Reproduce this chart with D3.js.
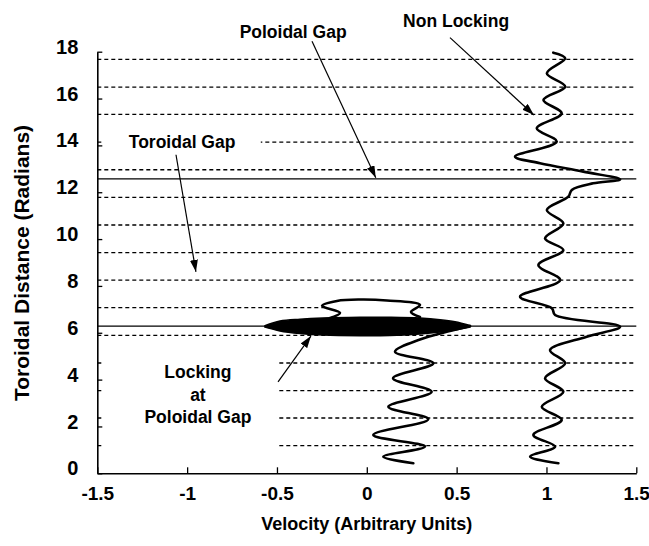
<!DOCTYPE html>
<html><head><meta charset="utf-8">
<script src="https://cdn.jsdelivr.net/npm/d3@7"></script>
<style>
html,body{margin:0;padding:0;background:#fff;}
svg{display:block;}
text{font-family:"Liberation Sans",Arial,Helvetica,sans-serif;font-weight:bold;fill:#000;}
</style></head><body>
<svg id="chart" width="649" height="546"></svg>
<script>
// ---------- data ----------
const xTicks = [-1.5, -1, -0.5, 0, 0.5, 1, 1.5];
const yTicks = [0, 2, 4, 6, 8, 10, 12, 14, 16, 18];
const dashedLevels = [1.18, 2.36, 3.53, 4.71, 5.89, 7.07, 8.25, 9.42, 10.60, 11.78, 12.96, 14.14, 15.32, 16.49, 17.67];
const gapLevels = [6.28, 12.57];

// Non locking trajectory
const nonLockV = [1.066, 0.909, 1.048, 0.927, 1.085, 0.974, 1.094, 0.992, 1.104, 1.020, 1.224, 1.41, 1.048, 1.03, 0.853, 1.076, 0.955, 1.094, 0.992, 1.094, 1.002, 1.122, 1.141, 1.26, 1.41, 1.205, 0.964, 0.825, 1.057, 0.946, 1.085, 0.983, 1.104, 1.002, 1.104, 1.038];
const nonLockT = [0.43, 0.71, 1.14, 1.64, 2.28, 2.84, 3.48, 4.06, 4.70, 5.26, 5.83, 6.26, 6.76, 7.05, 7.54, 8.25, 8.89, 9.53, 10.03, 10.67, 11.24, 11.81, 12.10, 12.38, 12.55, 12.88, 13.24, 13.52, 14.16, 14.73, 15.37, 15.94, 16.51, 17.08, 17.72, 17.96];

// Locking trajectory: part below the gap
const lockLowV = [0.259, 0.092, 0.324, 0.036, 0.342, 0.120, 0.361, 0.146, 0.370, 0.157, 0.30, 0.45, 0.575];
const lockLowT = [0.43, 0.71, 1.14, 1.64, 2.31, 2.84, 3.48, 4.06, 4.70, 5.19, 5.72, 6.05, 6.29];
// Locking trajectory: loop above the gap
const lockLoopV = [-0.205, -0.149, -0.249, -0.166, -0.038, 0.112, 0.296, 0.246, 0.296];
const lockLoopT = [6.63, 6.85, 7.15, 7.36, 7.42, 7.38, 7.19, 6.89, 6.67];
// Locking trajectory: dense oscillation band at the poloidal gap
const lockBandV = [-0.567, -0.483, -0.372, -0.244, -0.038, 0.129, 0.296, 0.408, 0.491, 0.575];
const lockBandTop = [6.30, 6.50, 6.58, 6.63, 6.66, 6.66, 6.63, 6.56, 6.47, 6.31];
const lockBandBottom = [6.24, 6.08, 5.97, 5.90, 5.87, 5.88, 5.95, 6.03, 6.12, 6.25];

const xTitle = "Velocity (Arbitrary Units)";
const yTitle = "Toroidal Distance (Radians)";

// ---------- chart ----------
const svg = d3.select("#chart");
const x = d3.scaleLinear().domain([-1.5, 1.5]).range([97.3, 636.3]);
const y = d3.scaleLinear().domain([0, 18]).range([473.3, 51.7]);

const defs = svg.append("defs");
defs.append("marker").attr("id", "arrow")
  .attr("viewBox", "0 0 12 8").attr("refX", 12).attr("refY", 4)
  .attr("markerWidth", 12).attr("markerHeight", 8)
  .attr("markerUnits", "userSpaceOnUse").attr("orient", "auto")
  .append("path").attr("d", "M0,0 L12,4 L0,8 Z").attr("fill", "#000");

// dashed reference lines
svg.append("g").selectAll("line").data(dashedLevels).join("line")
  .attr("x1", x(-1.5)).attr("x2", x(1.5))
  .attr("y1", d => y(d)).attr("y2", d => y(d))
  .attr("stroke", "#000").attr("stroke-width", 1.3).attr("stroke-dasharray", "4,3");

// gap lines
svg.append("g").selectAll("line").data(gapLevels).join("line")
  .attr("x1", x(-1.5)).attr("x2", x(1.5))
  .attr("y1", d => y(d)).attr("y2", d => y(d))
  .attr("stroke", "#000").attr("stroke-width", 1.3);

// text boxes (white background behind labels inside plot)
const labelBoxes = [
  {v0: -1.47, v1: -0.59, t0: 13.55, t1: 14.6},
  {v0: -1.47, v1: -0.50, t0: 1.0, t1: 4.9}
];
svg.append("g").selectAll("rect").data(labelBoxes).join("rect")
  .attr("x", d => x(d.v0)).attr("width", d => x(d.v1) - x(d.v0))
  .attr("y", d => y(d.t1)).attr("height", d => y(d.t0) - y(d.t1))
  .attr("fill", "#fff");

// axes
const xAxis = d3.axisBottom(x).tickValues(xTicks).tickSizeInner(-6).tickSizeOuter(0)
  .tickPadding(13).tickFormat(d => String(d));
const gx = svg.append("g").attr("transform", `translate(0,${y(0)})`).call(xAxis);
const yAxis = d3.axisLeft(y).tickValues(yTicks).tickSizeInner(-5).tickSizeOuter(0)
  .tickPadding(19).tickFormat(d => String(d));
const gy = svg.append("g").attr("transform", `translate(${x(-1.5)},0)`).call(yAxis);
[gx, gy].forEach(g => {
  g.select(".domain").attr("stroke", "#000").attr("stroke-width", 1.6);
  g.selectAll(".tick line").attr("stroke", "#000").attr("stroke-width", 1.3);
  g.selectAll(".tick text").attr("font-family", null).attr("fill", "#000");
});
gy.selectAll(".tick text").attr("font-size", 20).attr("dy", "0.08em");
gx.selectAll(".tick text").attr("font-size", 19);
gx.selectAll(".tick text").filter(d => d === 1.5).attr("text-anchor", "end").attr("dx", "13px");

// curves
const lineGen = d3.line().x(d => x(d[0])).y(d => y(d[1])).curve(d3.curveCatmullRom.alpha(0.5));
const nonLock = nonLockV.map((v, i) => [v, nonLockT[i]]);
const lockLow = lockLowV.map((v, i) => [v, lockLowT[i]]);
const lockLoop = lockLoopV.map((v, i) => [v, lockLoopT[i]]);
const band = lockBandV.map((v, i) => ({v, top: lockBandTop[i], bot: lockBandBottom[i]}));

// inside of the upper loop is blank in the original
svg.append("path").datum(lockLoop)
  .attr("d", d3.line().x(d => x(d[0])).y(d => y(d[1])).curve(d3.curveCatmullRomClosed.alpha(0.5)))
  .attr("fill", "#fff").attr("stroke", "none");

svg.append("path").datum(band)
  .attr("d", d3.area().x(d => x(d.v)).y0(d => y(d.bot)).y1(d => y(d.top)).curve(d3.curveCatmullRom.alpha(0.5)))
  .attr("fill", "#000").attr("stroke", "#000").attr("stroke-width", 1.5);

[nonLock, lockLow, lockLoop].forEach(data => {
  svg.append("path").datum(data).attr("d", lineGen)
    .attr("fill", "none").attr("stroke", "#000").attr("stroke-width", 2.6)
    .attr("stroke-linejoin", "round").attr("stroke-linecap", "round");
});

// annotations
const arrows = [
  {v0: -0.305, t0: 18.45, v1: 0.05, t1: 12.62},
  {v0: 0.463, t0: 18.6, v1: 0.93, t1: 15.3},
  {v0: -1.062, t0: 13.6, v1: -0.951, t1: 8.6},
  {v0: -0.494, t0: 3.9, v1: -0.311, t1: 5.86}
];
svg.append("g").selectAll("line").data(arrows).join("line")
  .attr("x1", d => x(d.v0)).attr("y1", d => y(d.t0))
  .attr("x2", d => x(d.v1)).attr("y2", d => y(d.t1))
  .attr("stroke", "#000").attr("stroke-width", 1.2).attr("marker-end", "url(#arrow)");

const notes = [
  {text: "Poloidal Gap", v: -0.41, t: 18.59},
  {text: "Non Locking", v: 0.497, t: 19.06},
  {text: "Toroidal Gap", v: -1.028, t: 13.89},
  {text: "Locking", v: -0.94, t: 4.07},
  {text: "at", v: -0.94, t: 3.09},
  {text: "Poloidal Gap", v: -0.94, t: 2.15}
];
svg.append("g").selectAll("text").data(notes).join("text")
  .attr("x", d => x(d.v)).attr("y", d => y(d.t))
  .attr("text-anchor", "middle").attr("font-size", 17.5)
  .text(d => d.text);

// axis titles
svg.append("text").attr("x", (x(-1.5) + x(1.5)) / 2).attr("y", 530)
  .attr("text-anchor", "middle").attr("font-size", 18).text(xTitle);
svg.append("text").attr("transform", `translate(29,${263}) rotate(-90)`)
  .attr("text-anchor", "middle").attr("font-size", 21).text(yTitle);
</script>
</body></html>
